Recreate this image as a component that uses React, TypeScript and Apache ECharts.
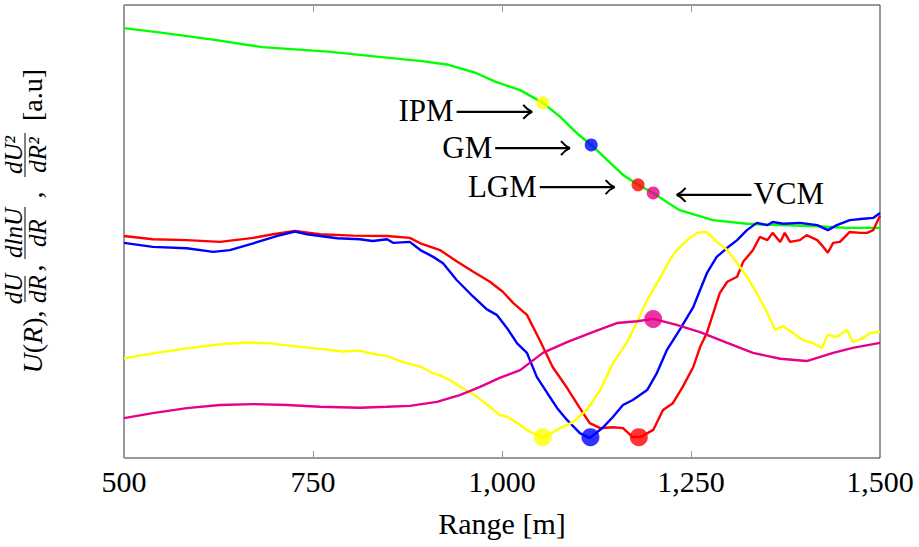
import React, { useEffect, useRef } from 'react';
import * as echarts from 'echarts';

const FONT = '"Liberation Serif", "Times New Roman", serif';

// x: range [m], y: arbitrary units (0..100)
const uCurve: number[][] = [
  [500, 94.9], [554, 93.8], [620, 92.3], [683, 90.7], [770, 89.7], [841, 88.5], [894, 87.6],
  [929, 86.8], [964, 85.1], [991, 83.1], [1024, 81.2], [1054, 78.4], [1077, 75.3], [1099, 71.7],
  [1118, 69.1], [1139, 65.8], [1160, 62.5], [1180, 60.3], [1200, 58.5], [1218, 56.5], [1235, 54.7],
  [1279, 52.5], [1324, 51.7], [1368, 51.4], [1411, 51.2], [1456, 50.8], [1500, 50.8],
];

const dUdR: number[][] = [
  [500, 47.5], [538, 46.6], [583, 46.3], [618, 45.5], [640, 45.9], [671, 47.4], [702, 49.0],
  [726, 50.0], [742, 49.4], [782, 48.5], [812, 48.3], [829, 47.9], [848, 48.3], [856, 47.5],
  [878, 47.7], [892, 45.9], [909, 44.4], [922, 43.0], [940, 39.3], [962, 35.6], [980, 32.8],
  [993, 31.6], [1007, 28.6], [1020, 25.3], [1033, 23.2], [1046, 17.9], [1060, 14.3], [1073, 11.0],
  [1086, 8.4], [1103, 5.5], [1116, 4.4], [1134, 6.8], [1147, 9.1], [1160, 11.7], [1173, 12.8],
  [1192, 15.0], [1205, 18.8], [1218, 23.8], [1235, 28.3], [1253, 33.3], [1262, 37.1], [1271, 40.8],
  [1284, 44.4], [1298, 46.4], [1311, 48.1], [1324, 50.3], [1337, 51.9], [1351, 51.4], [1358, 52.1],
  [1372, 51.7], [1394, 51.9], [1417, 51.4], [1431, 50.3], [1443, 51.4], [1460, 52.5], [1478, 52.8],
  [1491, 53.0], [1500, 54.1],
];

const dlnUdR: number[][] = [
  [500, 49.0], [538, 48.3], [583, 48.1], [627, 47.7], [671, 48.6], [697, 49.4], [726, 50.1],
  [759, 49.4], [803, 49.1], [848, 49.0], [878, 48.6], [892, 47.4], [918, 45.9], [941, 43.3],
  [962, 41.1], [984, 38.9], [1001, 36.7], [1015, 34.2], [1033, 31.6], [1050, 26.0], [1067, 20.1],
  [1086, 15.5], [1103, 11.0], [1116, 7.7], [1130, 6.6], [1147, 6.8], [1160, 6.6], [1173, 4.6],
  [1183, 4.6], [1200, 6.2], [1213, 10.6], [1226, 12.1], [1239, 15.7], [1253, 20.1], [1262, 24.5],
  [1271, 27.6], [1288, 36.4], [1298, 38.9], [1311, 40.0], [1319, 43.3], [1332, 45.9], [1341, 48.8],
  [1351, 48.1], [1358, 49.7], [1368, 47.7], [1374, 49.7], [1381, 47.7], [1394, 48.1], [1403, 49.2],
  [1417, 48.1], [1425, 46.6], [1431, 45.3], [1438, 47.5], [1447, 47.7], [1460, 49.9], [1474, 49.7],
  [1483, 49.7], [1491, 50.3], [1500, 53.5],
];

const dU2dR2: number[][] = [
  [500, 22.0], [538, 23.1], [583, 24.2], [627, 25.1], [663, 25.5], [693, 25.3], [724, 24.7],
  [759, 24.1], [790, 23.5], [812, 23.7], [829, 23.0], [848, 22.5], [874, 20.9], [892, 20.2],
  [909, 18.7], [918, 18.3], [935, 16.8], [948, 15.4], [967, 13.5], [984, 11.3], [997, 9.5],
  [1007, 9.1], [1024, 7.3], [1033, 6.2], [1054, 4.4], [1077, 6.6], [1094, 7.9], [1112, 10.6],
  [1130, 15.0], [1147, 21.0], [1165, 25.4], [1178, 29.8], [1192, 34.9], [1209, 39.7], [1222, 43.7],
  [1231, 45.9], [1245, 48.1], [1258, 49.7], [1271, 49.9], [1284, 47.7], [1298, 45.9], [1311, 43.0],
  [1324, 40.0], [1337, 36.4], [1351, 32.0], [1361, 28.3], [1372, 29.1], [1385, 27.6], [1398, 26.0],
  [1411, 25.4], [1423, 24.3], [1431, 27.2], [1443, 26.7], [1456, 28.3], [1464, 25.6], [1478, 26.5],
  [1487, 27.6], [1500, 27.9],
];

const vcmCurve: number[][] = [
  [500, 8.8], [538, 9.9], [583, 11.0], [627, 11.7], [671, 11.9], [716, 11.7], [759, 11.3],
  [812, 11.1], [848, 11.3], [878, 11.5], [914, 12.4], [944, 13.9], [971, 15.7], [997, 17.7],
  [1024, 19.4], [1054, 23.2], [1086, 25.6], [1120, 27.8], [1152, 29.8], [1179, 30.2], [1200, 30.7],
  [1231, 29.4], [1262, 27.8], [1298, 25.4], [1332, 23.2], [1368, 21.9], [1403, 21.4], [1438, 23.2],
  [1464, 24.3], [1500, 25.4],
];

// marker points
const methodNames = ['IPM', 'GM', 'LGM', 'VCM'];
const methodRange = [1054, 1118, 1180, 1200];
const methodOnU = [78.4, 69.1, 60.3, 58.5];
const extremaPoints: number[][] = [[1054, 4.6], [1117, 4.6], [1181, 4.6], [1200, 30.7]];

// annotation arrows (data units)
const arrowFrom = [940, 991, 1050, 1330];
const arrowTo = [1040, 1090, 1149, 1231];
const arrowLevel = [76.4, 68.4, 59.8, 58.1];

const xTicks = [500, 750, 1000, 1250, 1500];

const GREEN = '#00ff00';
const BLUE = '#0000ff';
const RED = '#ff0000';
const YELLOW = '#ffff00';
const MAGENTA = '#e6008a';
const markerColors = [YELLOW, BLUE, RED, MAGENTA];

function lineSeries(data: number[][], color: string, z: number) {
  return {
    type: 'line',
    data,
    showSymbol: false,
    symbol: 'none',
    lineStyle: { color, width: 2.4 },
    itemStyle: { color },
    z,
  };
}

function txt(x: number, y: number, text: string, font: string, rotation = 0, align = 'center', rich?: any) {
  return {
    type: 'text',
    x,
    y,
    rotation,
    z: 100,
    style: {
      text,
      font,
      fill: '#000',
      align,
      verticalAlign: 'middle',
      textAlign: align,
      textVerticalAlign: 'middle',
      rich,
    },
  };
}

function vline(x: number, y1: number, y2: number) {
  return {
    type: 'line',
    z: 100,
    shape: { x1: x, y1, x2: x, y2 },
    style: { stroke: '#000', lineWidth: 1 },
  };
}

export default function App() {
  const ref = useRef<HTMLDivElement>(null);
  useEffect(() => {
    if (!ref.current) return;
    const chart = echarts.init(ref.current, undefined, { renderer: 'svg' });
    const axisCommon = {
      type: 'value',
      min: 500,
      max: 1500,
      interval: 250,
      splitLine: { show: false },
      axisLine: { show: false },
      axisTick: { show: true, inside: true, length: 7, lineStyle: { color: '#999', width: 1 } },
    };
    chart.setOption({
      animation: false,
      backgroundColor: '#fff',
      grid: {
        left: 124, right: 39, top: 5, bottom: 89, show: true, borderColor: '#333', borderWidth: 1,
        backgroundColor: 'transparent', containLabel: false, outerBoundsMode: 'none',
      },
      xAxis: [
        {
          ...axisCommon,
          position: 'bottom',
          axisLabel: {
            show: true,
            margin: 8,
            fontFamily: FONT,
            fontSize: 30,
            color: '#000',
            formatter: (v: number) => (xTicks.includes(v) ? v.toLocaleString('en-US') : ''),
          },
          name: 'Range [m]',
          nameLocation: 'middle',
          nameGap: 50,
          nameTextStyle: { fontFamily: FONT, fontSize: 30, color: '#000' },
        },
        { ...axisCommon, position: 'top', axisLabel: { show: false } },
      ],
      yAxis: {
        type: 'value',
        min: 0,
        max: 100,
        axisLine: { show: false },
        axisTick: { show: false },
        axisLabel: { show: false },
        splitLine: { show: false },
      },
      series: [
        lineSeries(uCurve, GREEN, 2),
        lineSeries(dlnUdR, RED, 3),
        lineSeries(dUdR, BLUE, 4),
        lineSeries(dU2dR2, YELLOW, 5),
        lineSeries(vcmCurve, MAGENTA, 6),
        {
          type: 'scatter',
          symbol: 'circle',
          symbolSize: 13,
          z: 10,
          data: methodRange.map((x, i) => ({ value: [x, methodOnU[i]], itemStyle: { color: markerColors[i] } })),
        },
        {
          type: 'scatter',
          symbol: 'circle',
          symbolSize: 18,
          z: 10,
          data: extremaPoints.map((p, i) => ({ value: p, itemStyle: { color: markerColors[i] } })),
        },
      ],
    });

    const g: any[] = [];
    // annotations
    methodNames.forEach((name, i) => {
      const p1 = chart.convertToPixel({ xAxisIndex: 0, yAxisIndex: 0 }, [arrowFrom[i], arrowLevel[i]]) as number[];
      const p2 = chart.convertToPixel({ xAxisIndex: 0, yAxisIndex: 0 }, [arrowTo[i], arrowLevel[i]]) as number[];
      const d = p2[0] > p1[0] ? 1 : -1;
      g.push({ type: 'line', z: 100, shape: { x1: p1[0], y1: p1[1], x2: p2[0] - d * 1, y2: p2[1] }, style: { stroke: '#000', lineWidth: 2.2 } });
      g.push({
        type: 'bezierCurve', z: 100,
        shape: { x1: p2[0] - d * 9, y1: p2[1] - 7, cpx1: p2[0] - d * 5, cpy1: p2[1] - 2, x2: p2[0], y2: p2[1] },
        style: { stroke: '#000', lineWidth: 2, fill: null },
      });
      g.push({
        type: 'bezierCurve', z: 100,
        shape: { x1: p2[0] - d * 9, y1: p2[1] + 7, cpx1: p2[0] - d * 5, cpy1: p2[1] + 2, x2: p2[0], y2: p2[1] },
        style: { stroke: '#000', lineWidth: 2, fill: null },
      });
      if (d > 0) g.push(txt(p1[0] - 3, p1[1] - 1, name, `31px ${FONT}`, 0, 'right'));
      else g.push(txt(p1[0] + 2, p1[1] - 1, name, `31px ${FONT}`, 0, 'left'));
    });

    // y-axis label (rotated)
    const R = Math.PI / 2;
    const mainFont = `28px ${FONT}`;
    const itFont = `italic 28px ${FONT}`;
    const fracFont = `italic 25px ${FONT}`;
    g.push(txt(32, 342, '{i|U}({i|R}),', mainFont, R, 'center', { i: { font: itFont } }));
    // dU/dR
    g.push(txt(13, 289, 'dU', fracFont, R));
    g.push(vline(25, 302, 276));
    g.push(txt(37, 289, 'dR', fracFont, R));
    g.push(txt(32, 268, ',', mainFont, R));
    // dlnU/dR
    g.push(txt(13, 233, 'dlnU', fracFont, R));
    g.push(vline(25, 259, 207));
    g.push(txt(37, 233, 'dR', fracFont, R));
    g.push(txt(32, 195, ',', mainFont, R));
    // dU^2/dR^2
    g.push(txt(13, 155, 'dU²', fracFont, R));
    g.push(vline(25, 177, 133));
    g.push(txt(37, 155, 'dR²', fracFont, R));
    g.push(txt(32, 95, '[a.u]', mainFont, R));

    chart.setOption({ graphic: g });
    return () => chart.dispose();
  }, []);
  return <div ref={ref} style={{ width: 919, height: 547, position: 'absolute', left: 0, top: 0 }} />;
}
